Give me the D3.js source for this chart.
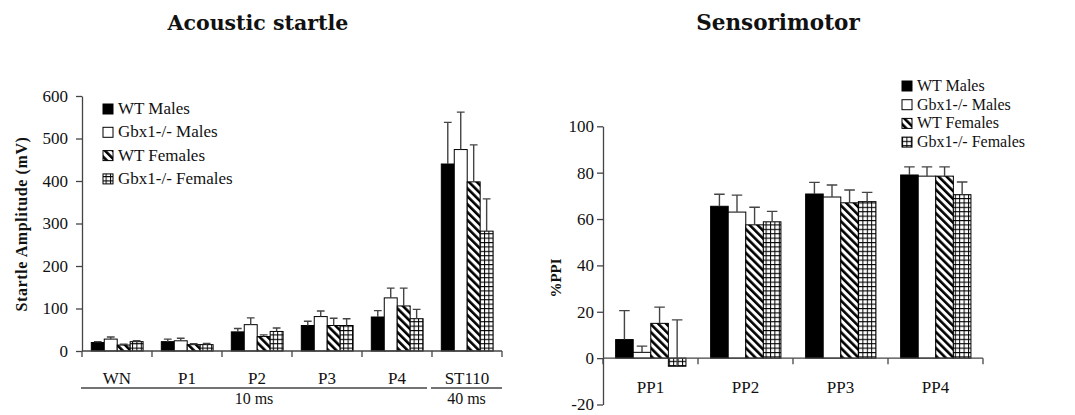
<!DOCTYPE html>
<html>
<head>
<meta charset="utf-8">
<script src="https://cdn.jsdelivr.net/npm/d3@7"></script>
<style>
  body { margin: 0; background: #fff; }
  text { font-family: "Liberation Serif", "Times New Roman", serif; fill: #111; }
</style>
</head>
<body>
<svg id="chart" width="1075" height="415"></svg>
<script>
// series shared by both panels
const series = ["WT Males", "Gbx1-/- Males", "WT Females", "Gbx1-/- Females"];

// Acoustic startle (mV)
const startleCats = ["WN", "P1", "P2", "P3", "P4", "ST110"];
const startleMean = [
  [20, 22, 45, 60, 80, 440],
  [28, 24, 62, 81, 125, 474],
  [14, 15, 34, 60, 106, 398],
  [22, 15, 46, 60, 76, 282]
];
const startleErr = [
  [2, 6, 8, 10, 15, 98],
  [5, 6, 16, 13, 23, 88],
  [2, 2, 4, 17, 42, 87],
  [2, 3, 8, 16, 22, 76]
];
const startleTicks = [0, 100, 200, 300, 400, 500, 600];

// Sensorimotor (%PPI)
const ppiCats = ["PP1", "PP2", "PP3", "PP4"];
const ppiMean = [
  [8, 65.5, 70.8, 79],
  [2.5, 63, 69.5, 78.5],
  [15, 57.5, 67, 78.5],
  [-3.5, 58.8, 67.5, 70.5]
];
const ppiErr = [
  [12.5, 5.2, 5, 3.5],
  [2.7, 7.3, 5.2, 4],
  [7, 7.6, 5.5, 4],
  [20, 4.5, 4, 5.5]
];
const ppiTicks = [-20, 0, 20, 40, 60, 80, 100];

const svg = d3.select("#chart");
const serif = "Liberation Serif";

// fill patterns
const defs = svg.append("defs");
const diag = defs.append("pattern")
    .attr("id", "diag")
    .attr("patternUnits", "userSpaceOnUse")
    .attr("width", 5.6)
    .attr("height", 5.6)
    .attr("patternTransform", "rotate(-45)");
diag.append("rect").attr("width", 5.6).attr("height", 5.6).attr("fill", "#fff");
diag.append("rect").attr("width", 2.6).attr("height", 5.6).attr("fill", "#000");

const grid = defs.append("pattern")
    .attr("id", "grid")
    .attr("patternUnits", "userSpaceOnUse")
    .attr("width", 4.4)
    .attr("height", 4.4);
grid.append("rect").attr("width", 4.4).attr("height", 4.4).attr("fill", "#fff");
grid.append("path")
    .attr("d", "M0,0.5H4.4M0.5,0V4.4")
    .attr("stroke", "#000")
    .attr("stroke-width", 1);

const fills = ["#000", "#fff", "url(#diag)", "url(#grid)"];
const axisColor = "#444";

function drawPanel(opt) {
    const g = svg.append("g");

    const x = d3.scaleBand()
        .domain(opt.cats)
        .range([opt.x0, opt.x1]);

    const bw = x.bandwidth();
    const inner = d3.scaleBand()
        .domain(series)
        .range([bw * 0.133, bw * 0.873]);

    const y = d3.scaleLinear()
        .domain(opt.domain)
        .range([opt.yBottom, opt.yTop]);

    // bars
    series.forEach((s, si) => {
        opt.cats.forEach((c, ci) => {
            const v = opt.mean[si][ci];
            const e = opt.err[si][ci];
            const bx = x(c) + inner(s);
            const w = inner.bandwidth();

            g.append("rect")
                .attr("x", bx)
                .attr("y", Math.min(y(v), y(0)))
                .attr("width", w)
                .attr("height", Math.abs(y(v) - y(0)))
                .attr("fill", fills[si])
                .attr("stroke", "#000")
                .attr("stroke-width", 1);

            // error bar, upward only
            const cx = bx + w / 2;
            const cap = w * 0.3;
            g.append("path")
                .attr("d", `M${cx},${y(v)}V${y(v + e)}M${cx - cap},${y(v + e)}H${cx + cap}`)
                .attr("fill", "none")
                .attr("stroke", axisColor)
                .attr("stroke-width", 1.4);
        });
    });

    // y axis
    const yAxis = g.append("g")
        .attr("transform", `translate(${opt.x0},0)`)
        .call(d3.axisLeft(y)
            .tickValues(opt.ticks)
            .tickFormat(d => String(d))
            .tickSize(6)
            .tickSizeOuter(0)
            .tickPadding(opt.tickPad));
    yAxis.selectAll("path, line").attr("stroke", axisColor).attr("stroke-width", 1.3);
    yAxis.selectAll("text")
        .style("font-size", "17px")
        .style("font-family", serif)
        .attr("fill", "#111");

    // x axis: line at zero, ticks on category boundaries
    const xLine = g.append("g");
    xLine.append("line")
        .attr("x1", opt.x0).attr("x2", opt.x1)
        .attr("y1", y(0)).attr("y2", y(0))
        .attr("stroke", axisColor).attr("stroke-width", 1.3);
    const bounds = opt.cats.map(c => x(c)).concat([opt.x1]);
    bounds.forEach(b => {
        xLine.append("line")
            .attr("x1", b).attr("x2", b)
            .attr("y1", y(0)).attr("y2", y(0) + 6)
            .attr("stroke", axisColor).attr("stroke-width", 1.3);
    });

    opt.cats.forEach(c => {
        g.append("text")
            .attr("x", x(c) + bw / 2)
            .attr("y", opt.labelY)
            .attr("text-anchor", "middle")
            .style("font-family", serif)
            .style("font-size", "17px")
            .text(c);
    });

    // y label
    g.append("text")
        .attr("transform", `translate(${opt.yLabelX},${opt.yLabelY}) rotate(-90)`)
        .attr("text-anchor", "middle")
        .style("font-family", serif)
        .style("font-size", opt.yLabelSize)
        .style("letter-spacing", opt.yLabelSpacing)
        .style("font-weight", "bold")
        .text(opt.yLabel);

    // title
    g.append("text")
        .attr("x", opt.titleX)
        .attr("y", 30)
        .attr("text-anchor", "middle")
        .style("font-family", "DejaVu Serif")
        .style("font-weight", "bold")
        .style("font-size", opt.titleSize)
        .text(opt.title);

    // legend
    series.forEach((s, si) => {
        const ly = opt.legY + si * opt.legStep;
        g.append("rect")
            .attr("x", opt.legX)
            .attr("y", ly - 5)
            .attr("width", 10)
            .attr("height", 10)
            .attr("fill", fills[si])
            .attr("stroke", "#000")
            .attr("stroke-width", 1);
        g.append("text")
            .attr("x", opt.legX + 15)
            .attr("y", ly + 5)
            .style("font-family", serif)
            .style("font-size", opt.legSize)
            .text(s);
    });

    return { g, x, y };
}

// left panel
const left = drawPanel({
    cats: startleCats, mean: startleMean, err: startleErr, ticks: startleTicks,
    domain: [0, 600], x0: 82, x1: 502, yBottom: 351, yTop: 96, tickPad: 8,
    labelY: 384, yLabel: "Startle Amplitude (mV)", yLabelX: 27, yLabelY: 224,
    yLabelSize: "16px", yLabelSpacing: "0.6px",
    title: "Acoustic startle", titleX: 258, titleSize: "20.5px",
    legX: 103, legY: 109, legStep: 23.3, legSize: "17px"
});

// grouping lines under the left x axis
const groups = [
    { label: "10 ms", from: "WN", to: "P4", trim: 5 },
    { label: "40 ms", from: "ST110", to: "ST110", trim: 0 }
];
groups.forEach(gr => {
    const a = left.x(gr.from) - 1;
    const b = left.x(gr.to) + left.x.bandwidth() - gr.trim;
    left.g.append("line")
        .attr("x1", a).attr("x2", b)
        .attr("y1", 388).attr("y2", 388)
        .attr("stroke", axisColor).attr("stroke-width", 1.3);
    left.g.append("text")
        .attr("x", (a + b) / 2)
        .attr("y", 404)
        .attr("text-anchor", "middle")
        .style("font-family", serif)
        .style("font-size", "16px")
        .text(gr.label);
});

// right panel
drawPanel({
    cats: ppiCats, mean: ppiMean, err: ppiErr, ticks: ppiTicks,
    domain: [-20, 100], x0: 603, x1: 983, yBottom: 404.5, yTop: 126.3, tickPad: 3,
    labelY: 393, yLabel: "%PPI", yLabelX: 561, yLabelY: 278,
    yLabelSize: "15px", yLabelSpacing: "0px",
    title: "Sensorimotor", titleX: 778, titleSize: "21.5px",
    legX: 902, legY: 86, legStep: 18.7, legSize: "16px"
});
</script>
</body>
</html>
